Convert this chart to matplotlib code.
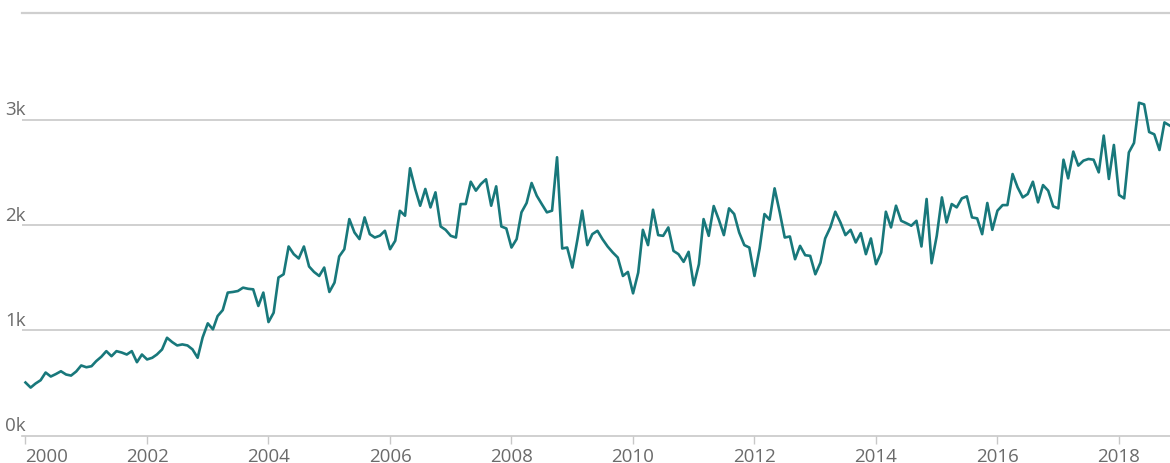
import matplotlib
matplotlib.use("Agg")
import matplotlib.pyplot as plt
import matplotlib.transforms as mtransforms
import matplotlib.dates as mdates
import pandas as pd
import numpy as np

# ---- data (monthly) ----
start_month = "2000-01"
values = [
    505, 457, 495, 527, 600, 562, 585, 612, 581, 571, 610, 667,
    650, 660, 708, 750, 803, 755, 803, 790, 771, 803, 698, 771,
    724, 740, 771, 819, 930, 889, 857, 867, 857, 820, 740, 933,
    1067, 1010, 1136, 1193, 1359, 1365, 1374, 1406, 1395, 1390, 1232, 1359,
    1079, 1168, 1502, 1533, 1797, 1724, 1683, 1797, 1607, 1555, 1517, 1597,
    1365, 1454, 1702, 1771, 2057, 1930, 1867, 2073, 1914, 1882, 1900, 1946,
    1771, 1851, 2136, 2089, 2540, 2343, 2184, 2343, 2168, 2311, 1987, 1955,
    1898, 1882, 2200, 2200, 2412, 2327, 2390, 2435, 2184, 2368, 1987, 1968,
    1787, 1867, 2121, 2210, 2400, 2279, 2200, 2121, 2137, 2644, 1778, 1787,
    1597, 1867, 2137, 1810, 1914, 1946, 1867, 1797, 1740, 1692, 1517, 1555,
    1352, 1549, 1955, 1810, 2146, 1905, 1898, 1978, 1755, 1724, 1651, 1746,
    1429, 1629, 2057, 1898, 2181, 2050, 1905, 2159, 2105, 1930, 1810, 1787,
    1517, 1778, 2105, 2051, 2349, 2121, 1882, 1892, 1676, 1803, 1714, 1708,
    1533, 1644, 1873, 1978, 2127, 2025, 1905, 1955, 1835, 1924, 1724, 1873,
    1629, 1740, 2127, 1978, 2184, 2041, 2019, 1994, 2041, 1797, 2248, 1638,
    1898, 2263, 2025, 2200, 2168, 2254, 2273, 2073, 2064, 1914, 2210, 1955,
    2137, 2190, 2190, 2485, 2359, 2263, 2295, 2412, 2216, 2380, 2327, 2178,
    2159, 2621, 2444, 2698, 2565, 2612, 2628, 2621, 2501, 2850, 2438, 2761,
    2286, 2254, 2690, 2780, 3162, 3146, 2884, 2862, 2713, 2975, 2946,
]
tick_years = [2000, 2002, 2004, 2006, 2008, 2010, 2012, 2014, 2016, 2018]
y_ticks = [0, 1000, 2000, 3000]
y_labels = ["0k", "1k", "2k", "3k"]

dates = pd.date_range(start_month, periods=len(values), freq="MS")

W, H = 1170, 464
fig = plt.figure(figsize=(W / 100, H / 100), dpi=100)
fig.patch.set_facecolor("white")

ax_left, ax_right = 22, 1170
ax_bottom, ax_top = 436.7, 30
ax = fig.add_axes([ax_left / W, 1 - ax_bottom / H, (ax_right - ax_left) / W,
                   (ax_bottom - ax_top) / H])

line_color = "#18787b"
ax.plot(dates, values, color=line_color, lw=1.9, solid_joinstyle="round",
        zorder=3)

px_per_year = 60.75
x0 = 2000 - 3.5 / px_per_year
x1 = 2000 + (ax_right - ax_left - 3.5) / px_per_year


def frac_year_to_num(fy):
    yr = int(np.floor(fy))
    base = mdates.date2num(pd.Timestamp(f"{yr}-01-01"))
    nxt = mdates.date2num(pd.Timestamp(f"{yr + 1}-01-01"))
    return base + (fy - yr) * (nxt - base)


ax.set_xlim(frac_year_to_num(x0), frac_year_to_num(x1))
ax.set_ylim(0, (ax_bottom - ax_top) / 105.3 * 1000)

for s in ["top", "right", "left"]:
    ax.spines[s].set_visible(False)
ax.spines["bottom"].set_color("#c8c8c8")
ax.spines["bottom"].set_linewidth(1.2)

for v in y_ticks[1:]:
    ax.axhline(v, color="#c4c4c4", lw=1.1, zorder=1)

ax.set_yticks([])
ax.set_xticks([pd.Timestamp(f"{y}-01-01") for y in tick_years])
ax.set_xticklabels([str(y) for y in tick_years])
ax.tick_params(axis="x", direction="out", length=6, width=1, color="#c8c8c8",
               labelsize=13.5, labelcolor="#6b6b6b", pad=2)
labs = ax.get_xticklabels()
for lab in labs:
    lab.set_fontfamily("Open Sans")
labs[0].set_horizontalalignment("left")

trans = mtransforms.blended_transform_factory(fig.transFigure, ax.transData)
for v, lab in zip(y_ticks, y_labels):
    ax.text(5 / W, v, lab, transform=mtransforms.offset_copy(
        trans, fig=fig, x=0, y=1.0, units="points"),
        ha="left", va="bottom", fontsize=13.5, color="#6b6b6b",
        fontfamily="Open Sans", clip_on=False)

fig.add_artist(plt.Line2D([22 / W, 1.0], [1 - 14 / H, 1 - 14 / H],
                          transform=fig.transFigure, color="#cfcfcf", lw=1.6))

fig.savefig("out.png", dpi=100, facecolor="white")
